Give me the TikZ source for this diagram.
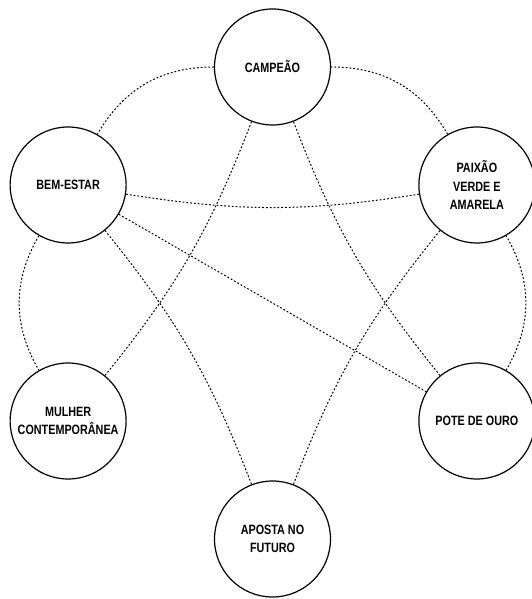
\documentclass[tikz,border=0pt]{standalone}
\usepackage{fontspec}
\setmainfont{Liberation Sans}[FakeStretch=0.8]
\usetikzlibrary{calc}
\tikzset{theme/.style={circle, draw=black, line width=1.2pt, fill=white, minimum size=116pt, inner sep=0pt, align=center, font=\fontsize{13.5}{18.5}\selectfont\bfseries}, link/.style={draw=black, line width=1pt, dash pattern=on 1.8pt off 2pt}}

\begin{document}
\begin{tikzpicture}[x=1pt, y=1pt]
\useasboundingbox (0,0) rectangle (532,599);
\coordinate (hub) at (272.5,296);
\node[theme] (campeao) at ($(hub)+(90:236)$) {CAMPEÃO};
\node[theme] (bem) at ($(hub)+(150:236)$) {BEM-ESTAR};
\node[theme] (mulher) at ($(hub)+(210:236)$) {MULHER\\CONTEMPORÂNEA};
\node[theme] (aposta) at ($(hub)+(270:236)$) {APOSTA NO\\FUTURO};
\node[theme] (pote) at ($(hub)+(330:236)$) {POTE DE OURO};
\node[theme] (paixao) at ($(hub)+(30:236)$) {PAIXÃO\\VERDE E\\AMARELA};
% outer ring
\foreach \a/\b in {campeao/bem, bem/mulher, pote/paixao, paixao/campeao} {\draw[link] (\a) to[bend right=30] (\b);}
% chords
\foreach \a/\b in {campeao/mulher, bem/aposta, aposta/paixao, pote/campeao, paixao/bem} {\draw[link] (\a) to[bend left=9] (\b);}
\draw[link] (bem) -- (pote);
\end{tikzpicture}
\end{document}
